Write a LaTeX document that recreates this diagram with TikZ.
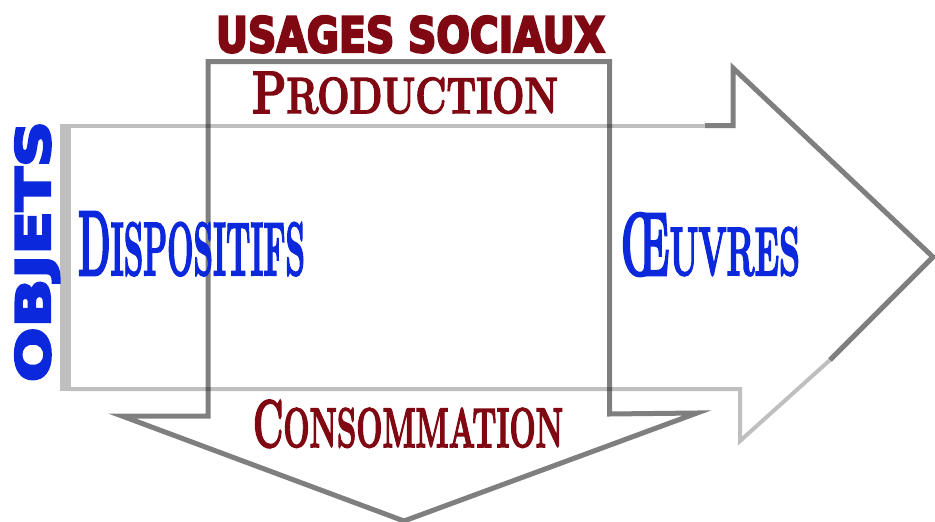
\documentclass[tikz,border=0pt]{standalone}
\usepackage{fontspec}
\setmainfont{Latin Modern Roman}[BoldFeatures={FakeBold=3}]
\newfontfamily\heavysans{DejaVu Sans}[BoldFeatures={FakeBold=5}]
\definecolor{wine}{RGB}{128,8,18}
\definecolor{royal}{RGB}{12,40,220}
% a capital followed by smaller capitals
\newcommand\capword[3]{{\fontsize{100pt}{100pt}\selectfont #1}{\fontsize{#3pt}{#3pt}\selectfont #2}}
\newcommand\heavyword[1]{{\heavysans\bfseries\fontsize{100pt}{100pt}\selectfont #1}}
\tikzset{
  vline/.style={draw=black, draw opacity=0.5, line width=5pt, line join=miter},
  hlight/.style={draw=black, draw opacity=0.25, line width=4pt, line join=miter},
  hdark/.style={draw=black, draw opacity=0.5, line width=5pt, line join=miter},
  label/.style={inner sep=0pt, outer sep=0pt, anchor=north west},
  redtxt/.style={label, text=wine},
  bluetxt/.style={label, text=royal}
}
\begin{document}
\begin{tikzpicture}[x=1pt,y=-1pt]
\useasboundingbox (0,0) rectangle (935,522);
% downward arrow
\draw[vline] (122,416) -- (208,416) -- (208,61.5) -- (609.5,61.5)
  -- (609.5,414) -- (697,413) -- (404,521) -- cycle;
% rightward arrow: pale left band and edges, darker head
\fill[black, fill opacity=0.25] (60,123.5) rectangle (71,391);
\draw[hlight] (830,360) -- (740,441) -- (740,389) -- (71,389);
\draw[hlight] (71,125.5) -- (705,125.5);
\draw[hdark] (705,125.5) -- (733,125.5) -- (733,68) -- (933,257) -- (830,360);
% labels
\node[redtxt] (usages) at (216,16)
  {\resizebox{389pt}{36pt}{\heavyword{USAGES SOCIAUX}}};
\node[redtxt] (production) at (252,72)
  {\resizebox{306pt}{41pt}{\bfseries\capword{P}{RODUCTION}{85}}};
\node[bluetxt] (dispositifs) at (78,212)
  {\resizebox{227pt}{63pt}{\bfseries\capword{D}{ISPOSITIFS}{82}}};
\node[bluetxt] (oeuvres) at (620,213)
  {\resizebox{180pt}{62pt}{\bfseries\capword{Œ}{UVRES}{77}}};
\node[redtxt] (consommation) at (253,400)
  {\resizebox{310pt}{47pt}{\bfseries\capword{C}{ONSOMMATION}{83}}};
\node[bluetxt] (objets) at (15,121)
  {\rotatebox{90}{\resizebox{261pt}{35pt}{\heavyword{OBJETS}}}};
\end{tikzpicture}
\end{document}
